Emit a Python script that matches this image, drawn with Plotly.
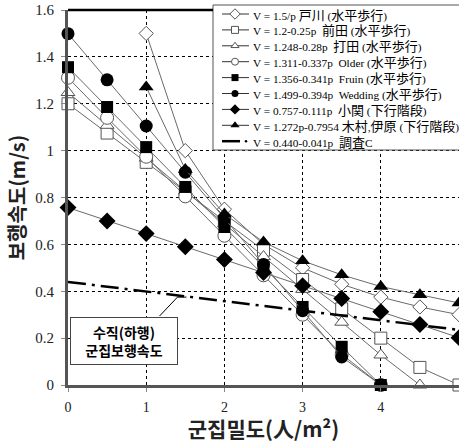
import plotly.graph_objects as go

x_full = [0, 0.5, 1, 1.5, 2, 2.5, 3, 3.5, 4, 4.5, 5]
x_from1 = [1, 1.5, 2, 2.5, 3, 3.5, 4, 4.5, 5]

toda = [1.5, 1.0, 0.75, 0.6, 0.5, 0.43, 0.375, 0.333, 0.3]
maeda = [1.2, 1.075, 0.95, 0.825, 0.7, 0.575, 0.45, 0.325, 0.2, 0.075, 0.0]
uchida = [1.248, 1.108, 0.968, 0.828, 0.688, 0.548, 0.408, 0.268, 0.128, 0.0]
older = [1.311, 1.14, 0.974, 0.805, 0.637, 0.468, 0.3, 0.131, 0.0]
fruin = [1.356, 1.186, 1.015, 0.845, 0.674, 0.504, 0.333, 0.163, 0.0]
wedding = [1.499, 1.302, 1.105, 0.908, 0.711, 0.514, 0.317, 0.12, 0.0]
koseki = [0.757, 0.70, 0.646, 0.59, 0.535, 0.48, 0.424, 0.369, 0.313, 0.258, 0.202]
kimura = [1.272, 0.92, 0.73, 0.61, 0.53, 0.47, 0.42, 0.385, 0.35]
survey_x = [0, 5]
survey = [0.44, 0.235]

names = [
    "V = 1.5/p 戸川 (水平歩行)",
    "V = 1.2-0.25p  前田 (水平歩行)",
    "V = 1.248-0.28p  打田 (水平歩行)",
    "V = 1.311-0.337p  Older (水平歩行)",
    "V = 1.356-0.341p  Fruin (水平歩行)",
    "V = 1.499-0.394p  Wedding (水平歩行)",
    "V = 0.757-0.111p  小関 (下行階段)",
    "V = 1.272p-0.7954 木村,伊原 (下行階段)",
    "V = 0.440-0.041p  調査C",
]
x_ticks = [0, 1, 2, 3, 4, 5]
y_ticks = [0, 0.2, 0.4, 0.6, 0.8, 1, 1.2, 1.4, 1.6]
y_ticktext = ["0", "0.2", "0.4", "0.6", "0.8", "1", "1.2", "1.4", "1.6"]

LINE = "#6a6a6a"
W, H = 459, 443
ML, MR, MT, MB = 68, 0, 10, 58
PW = W - ML - MR
PH = H - MT - MB
fig = go.Figure()

series = [
    (x_from1, toda, "diamond", True, 11, 8),
    (x_full[:len(maeda)], maeda, "square", True, 12, 7),
    (x_full[:len(uchida)], uchida, "triangle-up", True, 12, 7),
    (x_full[:len(older)], older, "circle", True, 13, 7),
    (x_full[:len(fruin)], fruin, "square", False, 12, 7),
    (x_full[:len(wedding)], wedding, "circle", False, 13, 7),
    (x_full, koseki, "diamond", False, 13, 8),
    (x_from1, kimura, "triangle-up", False, 13, 8),
]

def mk(sym, openm, sz):
    if openm:
        return dict(symbol=sym, size=sz, color="white", line=dict(color="#555555", width=1))
    return dict(symbol=sym, size=sz, color="black", line=dict(color="black", width=0))

def rich(label):
    # larger CJK glyphs, smaller Latin, like the reference legend
    out, buf, is_cjk = [], "", None
    for ch in label:
        c = ord(ch) > 0x2E80
        if is_cjk is None or c == is_cjk:
            buf += ch
        else:
            out.append((is_cjk, buf)); buf = ch
        is_cjk = c
    out.append((is_cjk, buf))
    res = ""
    for c, t in out:
        t = t.replace("  ", "&nbsp; ")
        if c:
            res += '<span style="font-size:13px;font-family:Noto Sans CJK JP">' + t + "</span>"
        else:
            res += t
    return res

for xs, ys, sym, openm, sz, lsz in series:
    fig.add_trace(go.Scatter(x=xs, y=ys, mode="lines+markers", showlegend=False,
                             line=dict(color=LINE, width=1), marker=mk(sym, openm, sz),
                             cliponaxis=False))

fig.add_trace(go.Scatter(x=survey_x, y=survey, mode="lines", showlegend=False,
                         line=dict(color="black", width=2.5, dash="18px,6px,3px,6px")))

# leader line for the label box
fig.add_shape(type="line", x0=1.17, y0=0.294, x1=1.40, y1=0.375, line=dict(color="black", width=1))
fig.add_shape(type="line", x0=1.40, y0=0.375, x1=1.515, y1=0.375, line=dict(color="black", width=1))

fig.add_annotation(x=0.715, y=0.188, xref="x", yref="y",
                   text="<b>수직(하행)<br>군집보행속도</b>", showarrow=False,
                   font=dict(family="Noto Sans CJK KR", size=14, color="black"),
                   bgcolor="white", bordercolor="#444", borderwidth=1,
                   width=104, height=44, borderpad=1)

# ----- hand-drawn legend on a pixel-space overlay axis -----
BX0, BX1, BY0, BY1 = 213, 475, 5, 150
fig.add_trace(go.Scatter(x=[BX0, BX1, BX1, BX0, BX0], y=[BY0, BY0, BY1, BY1, BY0],
                         xaxis="x2", yaxis="y2", mode="lines", fill="toself",
                         fillcolor="white", line=dict(width=0), showlegend=False,
                         hoverinfo="skip"))
rows = [14 + 15.9 * i for i in range(9)]
for i, (xs, ys, sym, openm, sz, lsz) in enumerate(series):
    r = rows[i]
    fig.add_trace(go.Scatter(x=[222, 235, 249], y=[r, r, r], xaxis="x2", yaxis="y2",
                             mode="lines+markers", showlegend=False, hoverinfo="skip",
                             line=dict(color="#333", width=1),
                             marker=dict(mk(sym, openm, lsz), opacity=[0, 1, 0]),
                             cliponaxis=False))
fig.add_trace(go.Scatter(x=[222, 240], y=[rows[8], rows[8]], xaxis="x2", yaxis="y2",
                         mode="lines", showlegend=False, hoverinfo="skip",
                         line=dict(color="black", width=2.5), cliponaxis=False))
fig.add_trace(go.Scatter(x=[246], y=[rows[8]], xaxis="x2", yaxis="y2",
                         mode="markers", showlegend=False, hoverinfo="skip",
                         marker=dict(symbol="circle", size=2.5, color="black"), cliponaxis=False))
for i, nm in enumerate(names):
    fig.add_annotation(x=251, y=rows[i], xref="x2", yref="y2", text=rich(nm), showarrow=False,
                       xanchor="left", yanchor="middle",
                       font=dict(family="Liberation Serif", size=11.3, color="black"))
fig.add_shape(type="rect", xref="paper", yref="paper",
              x0=(BX0 - ML) / PW, x1=(BX1 - ML) / PW,
              y0=(H - MB - BY1) / PH, y1=(H - MB - BY0) / PH,
              fillcolor="rgba(0,0,0,0)", line=dict(color="#555", width=1), layer="above")

fig.update_layout(
    width=W, height=H,
    margin=dict(l=ML, r=MR, t=MT, b=MB),
    plot_bgcolor="white", paper_bgcolor="white",
    font=dict(family="Liberation Serif", size=14, color="#222"),
    showlegend=False,
    xaxis2=dict(overlaying="x", range=[ML, W - MR], visible=False, anchor="y2"),
    yaxis2=dict(overlaying="y", range=[H - MB, MT], visible=False, anchor="x2"),
)
fig.layout.xaxis.update(range=[0, 5], tickvals=x_ticks, showgrid=True,
                 gridcolor="black", griddash="3px,3px", gridwidth=1,
                 showline=True, linecolor="#555", linewidth=3,
                 ticks="outside", ticklen=4, tickcolor="#888", ticklabelstandoff=3,
                 tickfont=dict(family="Liberation Serif", size=14, color="#222"),
                 zeroline=False,
                 title=dict(text="<b>군집밀도(人/m²)</b>", font=dict(family="Noto Sans CJK KR", size=21, color="#222"), standoff=2))
fig.layout.yaxis.update(range=[0, 1.6], tickvals=y_ticks, ticktext=y_ticktext,
                 showgrid=True, gridcolor="black", griddash="3px,3px", gridwidth=1,
                 showline=True, linecolor="#555", linewidth=3,
                 ticks="outside", ticklen=4, tickcolor="#888", ticklabelstandoff=4,
                 tickfont=dict(family="Liberation Serif", size=15, color="#222"),
                 zeroline=False,
                 title=dict(text="<b>보행속도(m/s)</b>", font=dict(family="Noto Sans CJK KR", size=20, color="#222"), standoff=5))
fig.add_shape(type="line", xref="paper", yref="paper", x0=0, x1=(BX0 - ML) / PW, y0=1, y1=1,
              line=dict(color="black", width=2.5))

fig.write_html("out.html")
